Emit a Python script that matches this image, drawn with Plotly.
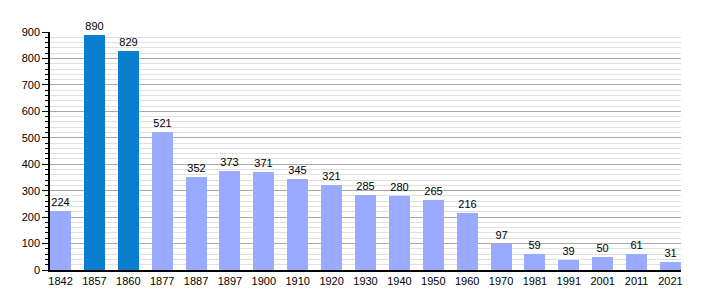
import plotly.graph_objects as go

years = ["1842", "1857", "1860", "1877", "1887", "1897", "1900", "1910", "1920", "1930",
         "1940", "1950", "1960", "1970", "1981", "1991", "2001", "2011", "2021"]
population = [224, 890, 829, 521, 352, 373, 371, 345, 321, 285, 280, 265, 216, 97, 59, 39, 50, 61, 31]
highlight = ["1857", "1860"]

light = "#99AAFF"
dark = "#0A7FD0"
colors = [dark if y in highlight else light for y in years]

fig = go.Figure(go.Bar(
    x=list(range(len(years))), y=population,
    marker=dict(color=colors, line=dict(width=0)),
    width=0.62,
    text=[str(v) for v in population], textposition="outside",
    textfont=dict(family="Liberation Sans, Arial, sans-serif", size=11, color="black"),
    cliponaxis=False,
))

fig.update_layout(
    width=710, height=300,
    margin=dict(l=50, r=29, t=32, b=30),
    plot_bgcolor="white", paper_bgcolor="white",
    font=dict(family="Liberation Sans, Arial, sans-serif", size=11, color="black"),
    showlegend=False, bargap=0,
    uniformtext=dict(mode=False),
)
fig.update_xaxes(
    range=[-0.31, len(years) - 1 + 0.31],
    tickmode="array", tickvals=list(range(len(years))), ticktext=years,
    showgrid=False, showline=True, linecolor="black", linewidth=1.5,
    ticks="", zeroline=False, tickfont=dict(size=11),
)
fig.update_yaxes(
    range=[0, 900], tickmode="linear", tick0=0, dtick=100,
    showgrid=True, gridcolor="#AAAAAA", gridwidth=1,
    showline=True, linecolor="black", linewidth=1.5,
    ticks="outside", ticklen=6, tickcolor="black", tickwidth=1,
    zeroline=False, tickfont=dict(size=11),
    minor=dict(dtick=20, showgrid=True, gridcolor="#E0E0E0", gridwidth=1,
               ticks="outside", ticklen=3, tickcolor="black", tickwidth=1),
)

fig.write_html("out.html")
